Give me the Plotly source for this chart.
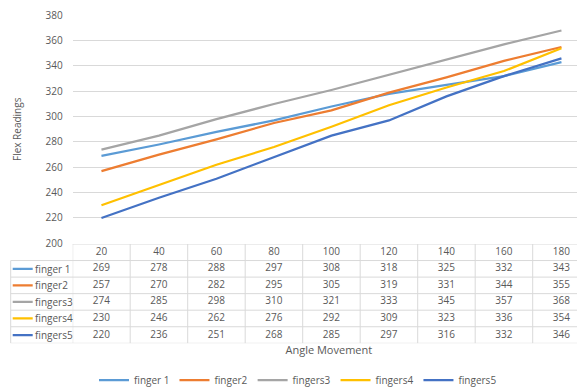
import plotly.graph_objects as go

angles = [20, 40, 60, 80, 100, 120, 140, 160, 180]
series_names = ["finger 1", "finger2", "fingers3", "fingers4", "fingers5"]
finger1 = [269, 278, 288, 297, 308, 318, 325, 332, 343]
finger2 = [257, 270, 282, 295, 305, 319, 331, 344, 355]
fingers3 = [274, 285, 298, 310, 321, 333, 345, 357, 368]
fingers4 = [230, 246, 262, 276, 292, 309, 323, 336, 354]
fingers5 = [220, 236, 251, 268, 285, 297, 316, 332, 346]
colors = ["#5B9BD5", "#ED7D31", "#A5A5A5", "#FFC000", "#4472C4"]
y_ticks = [200, 220, 240, 260, 280, 300, 320, 340, 360, 380]

all_series = [finger1, finger2, fingers3, fingers4, fingers5]
cats = [str(a) for a in angles]

# page body has an 8px default margin; figure sized to fill the rest
OFF = 8
W, H = 585 - OFF, 388 - OFF
TXT = "#595959"
GRID = "#D9D9D9"
FONT = "Open Sans"

# pixel geometry (reference window coords minus offset)
plot_left = 72.7 - OFF
plot_top = 15.3 - OFF
plot_bottom = 243.3 - OFF
col_w = 57.5
table_top = 244.0 - OFF
table_bottom = 343.3 - OFF
label_left = 10.7 - OFF

fig = go.Figure()

for name, vals, c in zip(series_names, all_series, colors):
    fig.add_trace(go.Scatter(x=cats, y=vals, name=name, mode="lines",
                             line=dict(color=c, width=2.25),
                             xaxis="x", yaxis="y"))

# table: header row (category labels) + one row per series, on y2
nrows = len(series_names) + 1
fig.add_trace(go.Scatter(x=cats, y=[nrows - 0.5] * len(cats), text=cats,
                         mode="text", textfont=dict(size=10, color=TXT, family=FONT),
                         showlegend=False, hoverinfo="skip", xaxis="x", yaxis="y2"))
for i, vals in enumerate(all_series):
    fig.add_trace(go.Scatter(x=cats, y=[nrows - 1.5 - i] * len(cats),
                             text=[str(v) for v in vals], mode="text",
                             textfont=dict(size=10, color=TXT, family=FONT),
                             showlegend=False, hoverinfo="skip",
                             xaxis="x", yaxis="y2"))

shapes = []
annotations = []
x0p = label_left / W
x_tab = plot_left / W
# horizontal table lines
for k in range(nrows + 1):
    shapes.append(dict(type="line", xref="paper", yref="y2",
                       x0=(x_tab if k == nrows else x0p), x1=1, y0=k, y1=k,
                       line=dict(color=GRID, width=1), layer="below"))
# vertical table lines
for j in range(len(cats) + 1):
    shapes.append(dict(type="line", xref="x", yref="y2",
                       x0=j - 0.5, x1=j - 0.5, y0=0, y1=nrows,
                       line=dict(color=GRID, width=1), layer="below"))
shapes.append(dict(type="line", xref="paper", yref="y2", x0=x0p, x1=x0p,
                   y0=0, y1=nrows - 1, line=dict(color=GRID, width=1), layer="below"))

# row labels with legend keys
for i, (name, c) in enumerate(zip(series_names, colors)):
    yc = nrows - 1.5 - i
    shapes.append(dict(type="line", xref="paper", yref="y2",
                       x0=(12.7 - OFF) / W, x1=(32.7 - OFF) / W, y0=yc, y1=yc,
                       line=dict(color=c, width=2.25)))
    annotations.append(dict(xref="paper", yref="y2", x=(33 - OFF) / W, y=yc,
                            text=name, showarrow=False, xanchor="left",
                            yanchor="middle",
                            font=dict(size=10, color=TXT, family=FONT)))

x_hi = -0.5 + (W - plot_left) / col_w

fig.update_layout(
    width=W, height=H,
    margin=dict(l=0, r=0, t=0, b=0, autoexpand=False),
    paper_bgcolor="white", plot_bgcolor="white",
    font=dict(family=FONT, color=TXT, size=10),
    shapes=shapes, annotations=annotations,
    xaxis=dict(type="category", domain=[plot_left / W, 1], range=[-0.5, x_hi],
               showgrid=False, zeroline=False, showline=False, automargin=False,
               showticklabels=False, ticks="", anchor="y",
               title=dict(text="Angle Movement", standoff=102,
                          font=dict(size=11, color=TXT, family=FONT))),
    yaxis=dict(domain=[1 - plot_bottom / H, 1 - plot_top / H],
               range=[200, 380],
               tickvals=y_ticks, showgrid=True, gridcolor=GRID, gridwidth=1,
               zeroline=False, showline=False, ticks="", ticklabelstandoff=9,
               ticklabeloverflow="allow",
               tickfont=dict(size=10, color=TXT, family=FONT), automargin=False,
               title=dict(text="Flex Readings", standoff=22,
                          font=dict(size=10, color=TXT, family=FONT))),
    yaxis2=dict(domain=[1 - table_bottom / H, 1 - table_top / H], range=[0, nrows],
                showgrid=False, zeroline=False, showline=False, automargin=False,
                showticklabels=False, ticks="", anchor="x"),
    legend=dict(orientation="h", x=(298 - OFF) / W, xanchor="center",
                y=1 - (380 - OFF) / H,
                yanchor="middle", font=dict(size=10, color=TXT, family=FONT),
                bgcolor="rgba(0,0,0,0)", itemwidth=30),
    showlegend=True,
)

fig.write_html("out.html")
